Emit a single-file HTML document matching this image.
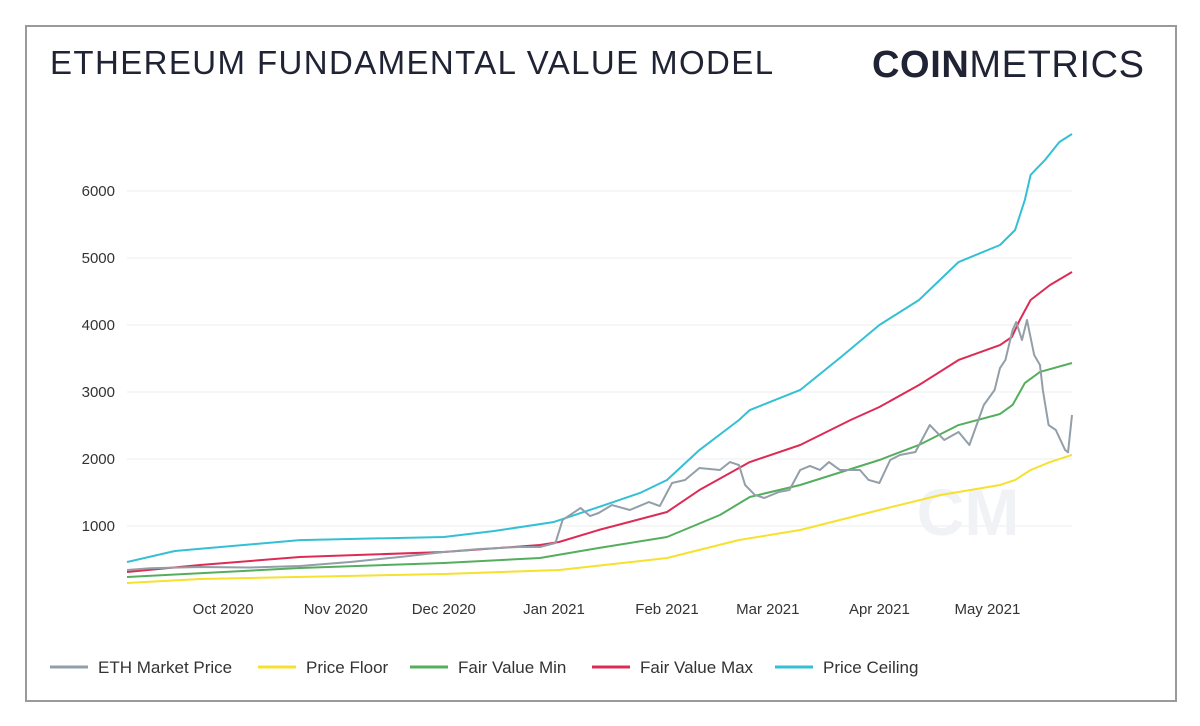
<!DOCTYPE html>
<html><head><meta charset="utf-8"><style>
body{margin:0;background:#fff;width:1200px;height:726px;overflow:hidden;font-family:"Liberation Sans",sans-serif;}
#frame{position:absolute;left:25px;top:25px;width:1148px;height:673px;border:2px solid #9a9a9a;}
#title{position:absolute;left:50px;top:44px;font-size:33px;color:#1f2333;letter-spacing:1.4px;}
#logo{position:absolute;left:872px;top:44px;font-size:38px;color:#1f2333;letter-spacing:0.6px;}
svg{position:absolute;left:0;top:0;}
</style></head><body>
<div id="frame"></div>
<div id="title">ETHEREUM FUNDAMENTAL VALUE MODEL</div>
<div id="logo"><b>COIN</b><span style="font-weight:300">METRICS</span></div>
<svg id="chart" width="1200" height="726">
<text x="968" y="535" font-size="66" fill="#f0f2f5" font-weight="bold" text-anchor="middle">CM</text>
</svg>
<script>
const yTicks=[1000,2000,3000,4000,5000,6000];
const xTickLabels=["Oct 2020","Nov 2020","Dec 2020","Jan 2021","Feb 2021","Mar 2021","Apr 2021","May 2021"];
const xTickDays=[26.7,58,88,118.6,150,178,209,239];
const ceilDays=[0,13.3,48,88,102,118.6,131,142.5,150,159,170,173,187,198,209,220,231,242.5,246.7,249.4,251,255,259,262.5];
const ceilVals=[463,627,790,836,925,1060,1283,1493,1687,2134,2582,2731,3030,3507,4000,4373,4940,5194,5418,5866,6239,6463,6731,6851];
const maxDays=[0,20.3,48,88,114.7,120,131,150,159,173,187,201,209,220,231,242.5,245.8,248,251,256.4,262.5];
const maxVals=[313,418,537,612,716,761,940,1209,1537,1955,2209,2582,2776,3104,3478,3701,3821,4075,4373,4597,4791];
const minDays=[0,48,88,114.7,131,150,164.7,173,187,209,220,231,242.5,246,249.4,253.6,262.5];
const minVals=[239,373,448,522,672,836,1164,1433,1612,1985,2209,2507,2672,2806,3134,3299,3433];
const floorDays=[0,20.3,88,120,150,170,187,209,226,242.5,246.7,251,256.4,262.5];
const floorVals=[149,209,284,343,522,791,940,1239,1463,1612,1687,1836,1955,2060];
const ethDays=[0,6.4,20.3,34.2,48,62,75.8,88,98,109,114.7,119,121,126,128.6,131,134.7,139.7,145,148,151.4,155,159,164.7,167.5,170,171.7,174.4,177,181,184,187,189.7,192.5,195,198,203.6,206,209,212,214.7,219,223,227,231,234,238,241,242.5,244,246,247,248.6,250,252,253.6,254.4,256,258,260.6,261.4,262.5];
const ethVals=[343,370,388,380,403,463,537,612,657,687,687,746,1090,1269,1149,1194,1313,1239,1358,1298,1642,1687,1866,1836,1955,1910,1612,1463,1418,1507,1537,1836,1896,1836,1955,1836,1836,1687,1642,1985,2060,2104,2507,2284,2403,2209,2806,3030,3358,3478,3925,4045,3776,4075,3552,3403,3030,2507,2433,2134,2100,2657];
const NS="http://www.w3.org/2000/svg";
const svg=document.getElementById('chart');
const X=d=>127+d*3.6, Y=v=>593-v*0.067;
function mk(t,a){const e=document.createElementNS(NS,t);for(const k in a)e.setAttribute(k,a[k]);svg.appendChild(e);return e;}
yTicks.forEach(v=>{
 const g=mk('line',{x1:127,x2:1072,y1:Y(v),y2:Y(v),stroke:'#ececec','stroke-width':1});
 
 
 const t=mk('text',{x:115,y:Y(v)+5,'font-size':15,fill:'#333','text-anchor':'end'});t.textContent=v;
 
 
});
xTickLabels.forEach((l,i)=>{
 const t=mk('text',{x:X(xTickDays[i]),y:614,'font-size':15,fill:'#333','text-anchor':'middle'});t.textContent=l;
 
 
});
const svgW=svg.querySelector('text');svg.appendChild(svgW);
function line(days,vals,color,name){
 const p=mk('polyline',{points:days.map((d,i)=>X(d)+','+Y(vals[i])).join(' '),fill:'none',stroke:color,'stroke-width':2,'stroke-linejoin':'round'});
 
 
}
line(floorDays,floorVals,'#f5e12e','price-floor-line');
line(minDays,minVals,'#55ae5e','fair-value-min-line');
line(maxDays,maxVals,'#dc2c56','fair-value-max-line');
line(ceilDays,ceilVals,'#34c0d4','price-ceiling-line');
line(ethDays,ethVals,'#939fa8','eth-market-price-line');
const legend=[['ETH Market Price','#939fa8',50],['Price Floor','#f5e12e',258],['Fair Value Min','#55ae5e',410],['Fair Value Max','#dc2c56',592],['Price Ceiling','#34c0d4',775]];
legend.forEach(([n,c,x])=>{
 const l=mk('line',{x1:x,x2:x+38,y1:667,y2:667,stroke:c,'stroke-width':3});
 
 
 const t=mk('text',{x:x+48,y:673,'font-size':17,fill:'#333'});t.textContent=n;
 
 
});
</script>
</body></html>
